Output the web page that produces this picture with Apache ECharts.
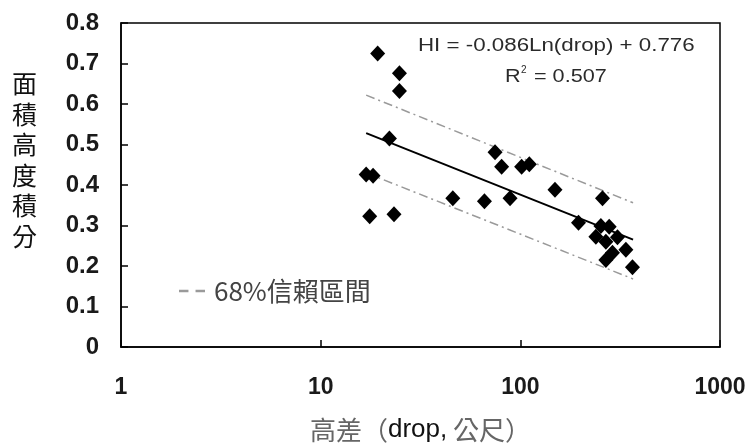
<!DOCTYPE html>
<html>
<head>
<meta charset="utf-8">
<script src="https://cdn.jsdelivr.net/npm/echarts@6/dist/echarts.min.js"></script>
<style>
  html, body { margin: 0; padding: 0; background: #fff; }
  #chart-container { width: 747px; height: 446px; }
</style>
</head>
<body>
<div id="chart-container"></div>
<script>
// drop (m) and hypsometric integral
var drops = [19.3, 24.8, 24.8, 22.1, 16.9, 18.3, 17.6, 23.3, 45.9, 66.1, 88.8, 74.7, 80.6,
  101.5, 110.9, 149.1, 257.9, 195.6, 253.2, 278.6, 239, 306.5, 268.2, 289.4, 337.7, 268.2, 364.4];
var hiValues = [0.725, 0.676, 0.632, 0.515, 0.426, 0.423, 0.323, 0.328, 0.367, 0.360, 0.367, 0.481, 0.445,
  0.445, 0.451, 0.388, 0.367, 0.307, 0.299, 0.297, 0.272, 0.271, 0.260, 0.233, 0.240, 0.215, 0.197];

// regression line and 68% band end points
var trendX = [16.9, 367];
var trendY = [0.528, 0.265];
var upperY = [0.622, 0.356];
var lowerY = [0.430, 0.168];

var xTicks = [1, 10, 100, 1000];

var font = "Liberation Sans, Arial, Noto Sans CJK TC, sans-serif";
var cjk = "Noto Sans CJK TC, sans-serif";

function pairs(xs, ys) {
  return xs.map(function (x, i) { return [x, ys[i]]; });
}

var dom = document.getElementById("chart-container");
var myChart = echarts.init(dom, null, { renderer: "canvas" });

var bandStyle = { color: "#9a9a9a", width: 1.5, type: [9, 4, 2, 4] };

var yName = "面積高度積分".split("").map(function (c) { return "{c|" + c + "}"; }).join("\n") + "\n{s| }";

var option = {
  animation: false,
  textStyle: { fontFamily: font },
  grid: {
    left: 121, right: 27, top: 23, bottom: 99,
    outerBoundsMode: "none",
    show: true, borderColor: "#000", borderWidth: 1.5, backgroundColor: "transparent"
  },
  legend: {
    data: [{ name: "68%信賴區間", icon: "path://M0,0h8v2h-8z M14,0h8v2h-8z" }],
    left: 174,
    top: 273,
    itemWidth: 26,
    itemHeight: 3,
    textStyle: { fontSize: 26, color: "#444", fontFamily: cjk, padding: [0, 0, 0, 4] }
  },
  xAxis: {
    type: "log",
    logBase: 10,
    min: xTicks[0],
    max: xTicks[xTicks.length - 1],
    name: "{g|高差（}{b|drop,}{g| 公尺）}",
    nameLocation: "middle",
    nameGap: 70,
    nameTextStyle: {
      fontSize: 27,
      rich: {
        g: { fontSize: 26, color: "#666", fontFamily: cjk },
        b: { fontSize: 26, color: "#111", fontFamily: font }
      }
    },
    axisLine: { lineStyle: { color: "#000", width: 1.5 } },
    axisTick: { inside: true, length: 7, lineStyle: { color: "#000", width: 1.5 } },
    minorTick: { show: false },
    splitLine: { show: false },
    axisLabel: { fontSize: 23, fontWeight: "bold", color: "#1a1a1a", margin: 29, formatter: function (v) { return String(Math.round(v)); } }
  },
  yAxis: {
    type: "value",
    min: 0,
    max: 0.8,
    interval: 0.1,
    name: yName,
    nameLocation: "middle",
    nameRotate: 0,
    nameGap: 84,
    nameTextStyle: {
      rich: {
        c: { fontSize: 25, color: "#111", lineHeight: 30.5, fontFamily: cjk },
        s: { fontSize: 10, lineHeight: 50 }
      }
    },
    axisLine: { lineStyle: { color: "#000", width: 1.5 } },
    axisTick: { inside: true, length: 7, lineStyle: { color: "#000", width: 1.5 } },
    splitLine: { show: false },
    axisLabel: { fontSize: 24, fontWeight: "bold", color: "#1a1a1a", margin: 22, formatter: function (v) { return String(Math.round(v * 10) / 10); } }
  },
  graphic: [
    { type: "text", left: 418, top: 37, scaleX: 1.24, style: { text: "HI = -0.086Ln(drop) + 0.776", fontSize: 18, fill: "#2a2a2a", fontFamily: font } },
    { type: "text", left: 505, top: 68, scaleX: 1.2, style: { text: "R", fontSize: 18, fill: "#2a2a2a", fontFamily: font } },
    { type: "text", left: 521, top: 65, style: { text: "2", fontSize: 10, fill: "#2a2a2a", fontFamily: font } },
    { type: "text", left: 528, top: 68, scaleX: 1.2, style: { text: " = 0.507", fontSize: 18, fill: "#2a2a2a", fontFamily: font } }
  ],
  series: [
    {
      name: "68%信賴區間",
      type: "line",
      symbol: "none",
      data: pairs(trendX, upperY),
      lineStyle: bandStyle,
      itemStyle: { color: "#9a9a9a" }
    },
    {
      name: "68%信賴區間",
      type: "line",
      symbol: "none",
      data: pairs(trendX, lowerY),
      lineStyle: bandStyle,
      itemStyle: { color: "#9a9a9a" }
    },
    {
      name: "trend",
      type: "line",
      symbol: "none",
      data: pairs(trendX, trendY),
      lineStyle: { color: "#000", width: 2 },
      z: 3
    },
    {
      name: "HI",
      type: "scatter",
      symbol: "diamond",
      symbolSize: [15, 16],
      data: pairs(drops, hiValues),
      itemStyle: { color: "#000", opacity: 1 },
      z: 4
    }
  ]
};

myChart.setOption(option);
window.addEventListener("resize", myChart.resize);
</script>
</body>
</html>
